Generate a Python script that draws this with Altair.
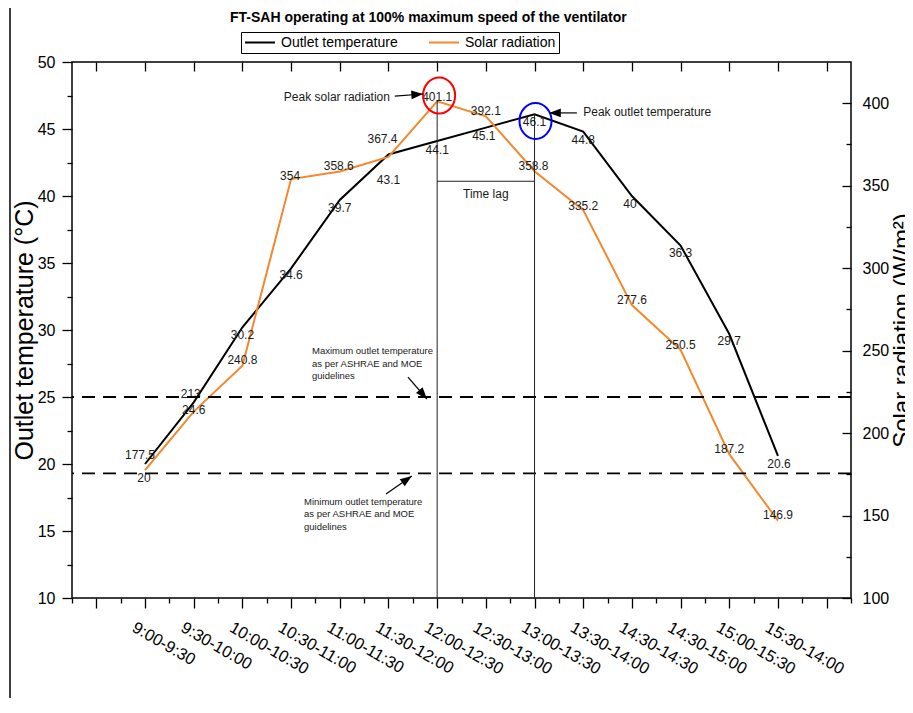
import json
import math
import altair as alt
import pandas as pd

# ---------------- data ----------------
chart_title = "FT-SAH operating at 100% maximum speed of the ventilator"
periods = ["9:00-9:30", "9:30-10:00", "10:00-10:30", "10:30-11:00", "11:00-11:30",
           "11:30-12:00", "12:00-12:30", "12:30-13:00", "13:00-13:30", "13:30-14:00",
           "14:30-14:30", "14:30-15:00", "15:00-15:30", "15:30-14:00"]
outlet_temp = [20, 24.6, 30.2, 34.6, 39.7, 43.1, 44.1, 45.1, 46.1, 44.8, 40, 36.3, 29.7, 20.6]
solar_rad = [177.5, 213, 240.8, 354, 358.6, 367.4, 401.1, 392.1, 358.8, 335.2, 277.6, 250.5, 187.2, 146.9]
series_names = ["Outlet temperature", "Solar radiation"]
temp_ticks = [10, 15, 20, 25, 30, 35, 40, 45, 50]
solar_ticks = [100, 150, 200, 250, 300, 350, 400]
guideline_temps = [25, 19.3]   # ASHRAE / MOE max and min outlet temperature lines

# label nudges (px; + = right / down)
temp_label_nudge_x = [-1, 0, 0, 0, 0, 0, 0, -2, 0, 0, -2, 0, 0, 1]
temp_label_nudge_y = [14, 8, 8, 7, 8, 26, 9, 8, 8, 8, 8, 7, 7, 8]
solar_label_nudge_x = [-5, -3, 0, -1, -1, -6, 0, 0, -1, 0, 0, 0, 0, 0]
solar_label_nudge_y = [-15, -18, -6, -3, -6, -18, -4, -5, -5, -4, -5, -5, -5, -6]

# ---------------- layout ----------------
FONT = "Liberation Sans, Arial, sans-serif"
ORANGE = "#F4882C"
W, H = 779, 536
X_DOM = [-1.5, 14.5]
T_DOM = [10, 50]
S_DOM = [100, 425]
px_x = W / (X_DOM[1] - X_DOM[0])
px_t = H / (T_DOM[1] - T_DOM[0])
px_s = H / (S_DOM[1] - S_DOM[0])

idx = list(range(len(periods)))
temp_df = pd.DataFrame({"i": idx, "t": outlet_temp, "series": series_names[0]})
solar_df = pd.DataFrame({"i": idx, "s": solar_rad, "series": series_names[1]})
temp_lbl = pd.DataFrame({
    "lx": [i + dx / px_x for i, dx in zip(idx, temp_label_nudge_x)],
    "ly": [v - dy / px_t for v, dy in zip(outlet_temp, temp_label_nudge_y)],
    "label": [f"{v:g}" for v in outlet_temp]})
solar_lbl = pd.DataFrame({
    "lx": [i + dx / px_x for i, dx in zip(idx, solar_label_nudge_x)],
    "ly": [v - dy / px_s for v, dy in zip(solar_rad, solar_label_nudge_y)],
    "label": [f"{v:g}" for v in solar_rad]})


def xq(field, axis=None):
    return alt.X(f"{field}:Q", scale=alt.Scale(domain=X_DOM, nice=False, zero=False), axis=axis)


def yt(field, axis=None):
    return alt.Y(f"{field}:Q", scale=alt.Scale(domain=T_DOM, nice=False, zero=False), axis=axis)


def ys(field, axis=None):
    return alt.Y(f"{field}:Q", scale=alt.Scale(domain=S_DOM, nice=False, zero=False), axis=axis)


color = alt.Color("series:N",
                  scale=alt.Scale(domain=series_names, range=["black", ORANGE]),
                  legend=alt.Legend(orient="none", legendX=169, legendY=-30, direction="horizontal",
                                    title=None, symbolType="stroke", symbolStrokeWidth=2,
                                    symbolSize=900, clipHeight=15, labelFontSize=14, labelFont=FONT,
                                    labelColor="black", strokeColor="black", fillColor="white",
                                    padding=3, columnPadding=30, labelOffset=5))

label_expr = (f"datum.value >= 0 && datum.value <= {len(periods) - 1} ? "
              f"{json.dumps(periods)}[round(datum.value)] : ''")

ax_bottom = alt.Axis(orient="bottom", values=list(range(-1, len(periods) + 1)), labelExpr=label_expr,
                     tickSize=10, tickWidth=1.3, labelAngle=30, labelAlign="left", labelBaseline="top",
                     labelPadding=11, labelOffset=-8, labelFontSize=16.5, labelOverlap=False,
                     labelFlush=False, labelBound=False, title=None, domain=False, grid=False)
ax_bottom_minor = alt.Axis(orient="bottom", values=[k + 0.5 for k in range(-2, len(periods) + 1)],
                           tickSize=5, tickWidth=1.3, labels=False, title=None, domain=False, grid=False)
ax_top = alt.Axis(orient="top", offset=-9, values=list(range(-1, len(periods) + 1)), tickSize=9,
                  tickWidth=1.3, labels=False, title=None, domain=False, grid=False)
ax_left = alt.Axis(orient="left", values=temp_ticks, tickSize=10, tickWidth=1.3, labelFontSize=16,
                   labelPadding=7, title="Outlet temperature (°C)", titleFontSize=25,
                   titleFontWeight="normal", titlePadding=0, domain=False, grid=False)
ax_left_minor = alt.Axis(orient="left", values=[v + 2.5 for v in temp_ticks[:-1]], tickSize=5,
                         tickWidth=1.3, labels=False, title=None, domain=False, grid=False)
ax_right = alt.Axis(orient="right", values=solar_ticks, ticks=False, tickSize=0, labelFontSize=16,
                    labelPadding=11, title="Solar radiation (W/m²)", titleFontSize=24,
                    titleFontWeight="normal", titleAngle=270, titleBaseline="top", titlePadding=2,
                    domain=False, grid=False)
ax_right_in = alt.Axis(orient="right", offset=-9, values=solar_ticks, tickSize=9, tickWidth=1.3,
                       labels=False, title=None, domain=False, grid=False)
ax_right_minor_in = alt.Axis(orient="right", offset=-5, values=[v + 25 for v in solar_ticks[:-1]],
                             tickSize=5, tickWidth=1.3, labels=False, title=None, domain=False, grid=False)

temp_line = alt.Chart(temp_df).mark_line(strokeWidth=2).encode(
    x=xq("i", ax_bottom), y=yt("t", ax_left), color=color)
solar_line = alt.Chart(solar_df).mark_line(strokeWidth=2).encode(
    x=xq("i", ax_bottom_minor), y=ys("s", ax_right), color=color)
temp_text = alt.Chart(temp_lbl).mark_text(fontSize=12, font=FONT, color="#1a1a1a", baseline="middle").encode(
    x=xq("lx", ax_top), y=yt("ly", ax_left_minor), text="label:N")
solar_text = alt.Chart(solar_lbl).mark_text(fontSize=12, font=FONT, color="#1a1a1a", baseline="middle").encode(
    x=xq("lx"), y=ys("ly", ax_right_in), text="label:N")
solar_ticks_layer = alt.Chart(solar_df).mark_point(opacity=0).encode(
    x=xq("i"), y=ys("s", ax_right_minor_in))

# guideline dashed lines
guides = alt.Chart(pd.DataFrame({"t": guideline_temps})).mark_rule(
    strokeDash=[13, 8], strokeWidth=1.8, color="black").encode(y=yt("t"))

# ---------------- annotations ----------------
peak_solar_i = solar_rad.index(max(solar_rad))
peak_temp_i = outlet_temp.index(max(outlet_temp))
vlines = alt.Chart(pd.DataFrame({"i": [peak_solar_i, peak_temp_i], "t": [47.1, max(outlet_temp)],
                                 "t2": [T_DOM[0], T_DOM[0]]})).mark_rule(
    color="#222", strokeWidth=1).encode(x=xq("i"), y=yt("t"), y2="t2")
lag_bar = alt.Chart(pd.DataFrame({"i": [peak_solar_i], "i2": [peak_temp_i], "t": [41.1]})).mark_rule(
    color="#222", strokeWidth=1).encode(x=xq("i"), x2="i2", y=yt("t"))
lag_text = alt.Chart(pd.DataFrame({"i": [7.0], "t": [40.15], "txt": ["Time lag"]})).mark_text(
    fontSize=12, font=FONT, color="#1a1a1a", baseline="middle").encode(x=xq("i"), y=yt("t"), text="txt:N")

ELLIPSE = "M-0.89,0 A0.89,1 0 1,0 0.89,0 A0.89,1 0 1,0 -0.89,0 Z"
rings = alt.Chart(pd.DataFrame({"i": [6.04, 8.02], "t": [47.5, 45.6], "col": ["#ff0000", "#0000ff"]})).mark_point(
    shape=ELLIPSE, filled=False, size=1296, strokeWidth=2, opacity=1).encode(
    x=xq("i"), y=yt("t"), stroke=alt.Stroke("col:N", scale=None))

arrow_i1 = [5.13, 8.87, 5.40, 4.95]
arrow_t1 = [47.46, 46.2, 26.49, 17.76]
arrow_i2 = [5.71, 8.30, 5.79, 5.48]
arrow_t2 = [47.61, 46.2, 24.85, 19.10]
ang = []
for a, b, c, d in zip(arrow_i1, arrow_t1, arrow_i2, arrow_t2):
    dxp = (c - a) * px_x
    dyp = -(d - b) * px_t
    ang.append(math.degrees(math.atan2(dxp, -dyp)) % 360)
arr_df = pd.DataFrame({"i": arrow_i1, "t": arrow_t1, "i2": arrow_i2, "t2": arrow_t2, "ang": ang})
arrow_lines = alt.Chart(arr_df).mark_rule(color="black", strokeWidth=1.2).encode(
    x=xq("i"), y=yt("t"), x2="i2", y2="t2")
ARROW = "M0,0 L-0.45,1.2 L0.45,1.2 Z"
arrow_heads = alt.Chart(arr_df).mark_point(shape=ARROW, filled=True, size=380, color="black", opacity=1).encode(
    x=xq("i2"), y=yt("t2"), angle=alt.Angle("ang:Q", scale=None))

peak_solar_text = alt.Chart(pd.DataFrame({"i": [5.03], "t": [47.39], "txt": ["Peak solar radiation"]})).mark_text(
    fontSize=12, font=FONT, color="#1a1a1a", align="right", baseline="middle").encode(
    x=xq("i"), y=yt("t"), text="txt:N")
peak_temp_text = alt.Chart(pd.DataFrame({"i": [9.0], "t": [46.27], "txt": ["Peak outlet temperature"]})).mark_text(
    fontSize=12, font=FONT, color="#1a1a1a", align="left", baseline="middle").encode(
    x=xq("i"), y=yt("t"), text="txt:N")
guide_text = alt.Chart(pd.DataFrame({
    "i": [3.43, 3.265], "t": [28.8, 17.54],
    "txt": ["Maximum outlet temperature\nas per ASHRAE and MOE\nguidelines",
            "Minimum outlet temperature\nas per ASHRAE and MOE\nguidelines"]})).mark_text(
    fontSize=9.5, font=FONT, color="#1a1a1a", align="left", baseline="top", lineBreak="\n",
    lineHeight=12.5).encode(x=xq("i"), y=yt("t"), text="txt:N")

# figure frame line on the left edge, and the chart title above the legend
frame = alt.Chart(pd.DataFrame({"a": [0]})).mark_rule(color="black", strokeWidth=1.5).encode(
    x=alt.value(-62), y=alt.value(-62), y2=alt.value(650))
title_mark = alt.Chart(pd.DataFrame({"txt": [chart_title]})).mark_text(
    fontSize=14, fontWeight="bold", font=FONT, color="black", align="left", baseline="alphabetic").encode(
    x=alt.value(158), y=alt.value(-40), text="txt:N")

chart = alt.layer(
    temp_line, solar_line, temp_text, solar_text, solar_ticks_layer,
    guides, vlines, lag_bar, lag_text, rings, arrow_lines, arrow_heads,
    peak_solar_text, peak_temp_text, guide_text, frame, title_mark
).resolve_scale(
    x="shared", y="independent", color="shared"
).resolve_axis(
    x="independent", y="independent"
).properties(
    width=W, height=H,
    autosize=alt.AutoSizeParams(type="none"),
    padding={"left": 64, "top": 54, "right": 54, "bottom": 100},
).configure_view(
    stroke="black", strokeWidth=1.5
).configure_axis(
    labelFont=FONT, titleFont=FONT, labelColor="black", titleColor="black", tickColor="black"
)

chart.save("out.html", embed_options={"renderer": "svg", "actions": False})
